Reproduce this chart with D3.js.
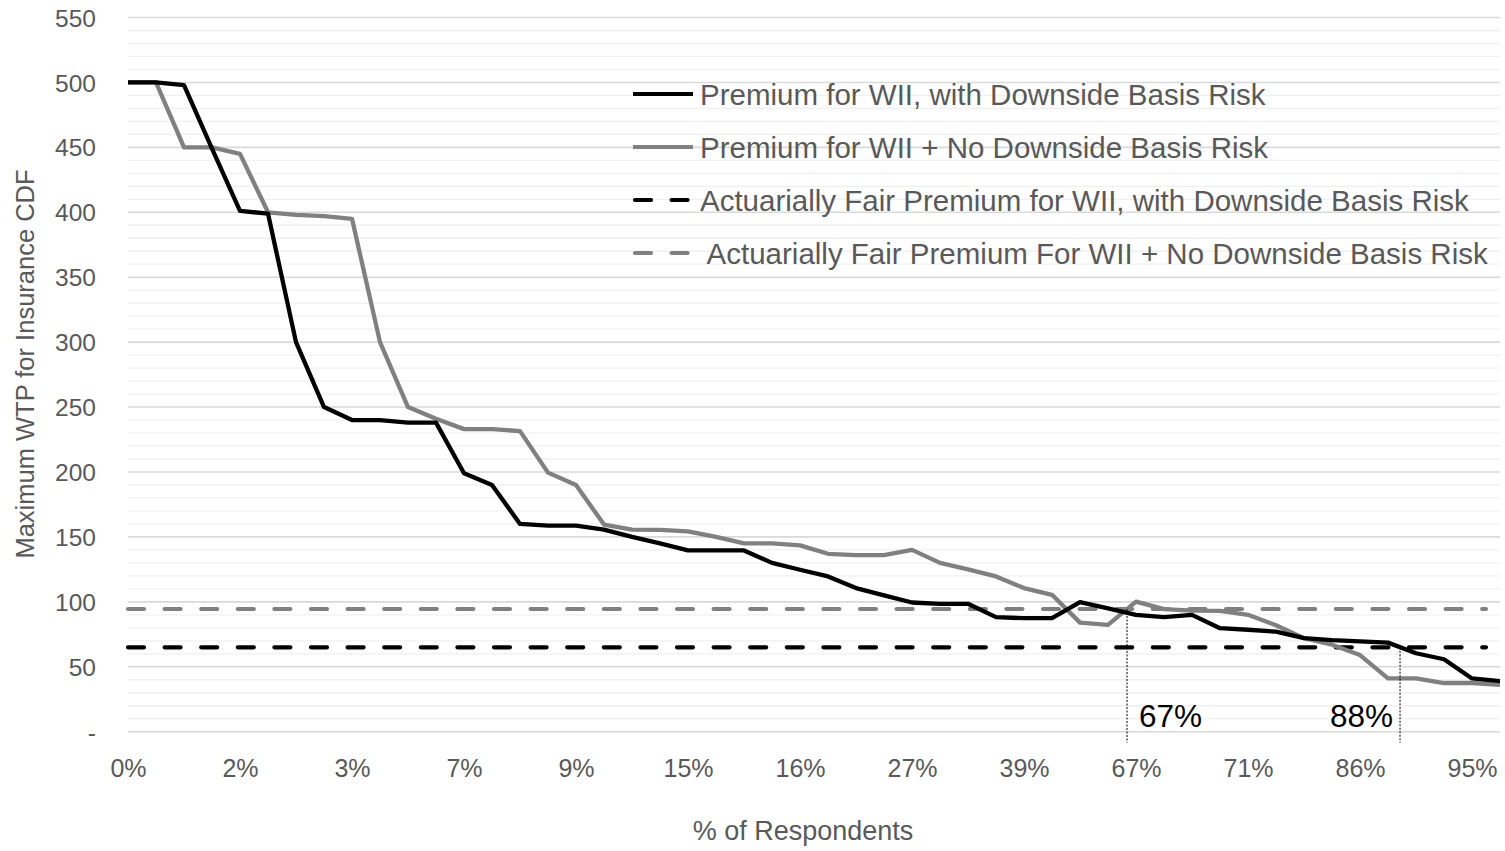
<!DOCTYPE html>
<html>
<head>
<meta charset="utf-8">
<script src="https://cdn.jsdelivr.net/npm/d3@7/dist/d3.min.js"></script>
<style>
  html, body { margin: 0; padding: 0; background: #fff; }
  svg { display: block; font-family: "Liberation Sans", Arial, sans-serif; }
</style>
</head>
<body>
<svg id="chart" width="1505" height="851"></svg>
<script>
// ---------- data ----------
const categories = ["0%","0%","1%","1%","2%","2%","2%","3%","3%","3%","5%","6%","7%","7%","8%","8%","9%","10%","12%","13%",
  "15%","15%","15%","16%","16%","17%","20%","23%","27%","29%","30%","36%","39%","40%","49%","55%","67%","68%","68%","70%",
  "71%","72%","79%","83%","86%","86%","88%","90%","95%","97%"];
const wiiDownside = [500,500,498,449,401,399,300,250,240,240,238,238,199,190,160,158.7,158.7,155.6,150,145,
  139.6,139.6,139.6,130,124.7,119.6,110.6,105,99.5,98.5,98.5,88.2,87.4,87.4,99.8,95,90,88.2,90,79.7,
  78.5,77,72,70.5,69.5,68.6,60.4,55.8,41,39];
const wiiNoDownside = [500,500,450,450,445,400,398,397,395,300,250,241,233,233,231.5,199.5,190,159.5,155.6,155.5,
  154.3,150,145,145,143.5,137,136,136,140,130,125,119.6,110.6,105.4,84,82.2,100.2,94.4,93.3,93,
  90,82,72,67,59,41,41,37.5,37.5,36];
const fairDownside = 65;
const fairNoDownside = 94.5;
const yTicks = [0,50,100,150,200,250,300,350,400,450,500,550];
const xTickEvery = 4;
const crossings = [
  {pos: 35.68, value: fairNoDownside, label: "67%", side: "right"},
  {pos: 45.43, value: fairDownside, label: "88%", side: "left"}
];
const legendLabels = [
  "Premium for WII, with Downside Basis Risk",
  "Premium for WII + No Downside Basis Risk",
  "Actuarially Fair Premium for WII, with Downside Basis Risk",
  " Actuarially Fair Premium For WII + No Downside Basis Risk"
];

// ---------- layout ----------
(function () {
const svg = d3.select("#chart");
const pLeft = 128, pRight = 1500, pTop = 17.5, pBottom = 731.7;
const BLACK = "#000000", GRAY = "#808080", TEXT = "#595959";

const x = d3.scaleLinear().domain([0, categories.length - 1]).range([pLeft, pRight]);
const y = d3.scaleLinear().domain([0, 550]).range([pBottom, pTop]);

svg.append("rect").attr("width", 1505).attr("height", 851).attr("fill", "#fff");

// minor gridlines
const minor = d3.range(0, 551, 10).filter(v => v % 50 !== 0);
svg.append("g").selectAll("line").data(minor).join("line")
  .attr("x1", pLeft).attr("x2", pRight)
  .attr("y1", d => y(d)).attr("y2", d => y(d))
  .attr("stroke", "#f0f0f0").attr("stroke-width", 1.3);
// major gridlines
svg.append("g").selectAll("line").data(yTicks).join("line")
  .attr("x1", pLeft).attr("x2", pRight)
  .attr("y1", d => y(d)).attr("y2", d => y(d))
  .attr("stroke", "#d9d9d9").attr("stroke-width", 1.6);

// y axis labels
const yAxis = d3.axisLeft(y).tickValues(yTicks).tickSize(0).tickPadding(0)
  .tickFormat(d => d === 0 ? "-" : d3.format("d")(d));
const gy = svg.append("g").attr("transform", `translate(${pLeft - 32},0)`).call(yAxis);
gy.select(".domain").remove();
gy.selectAll("text").attr("fill", TEXT).style("font-size", "24.5px").attr("dy", "0.35em");

// x axis labels
const xTicks = d3.range(0, categories.length, xTickEvery);
const xAxis = d3.axisBottom(x).tickValues(xTicks).tickSize(0).tickPadding(0)
  .tickFormat(i => categories[i]);
const gx = svg.append("g").attr("transform", `translate(0,${pBottom})`).call(xAxis);
gx.select(".domain").remove();
gx.selectAll("text").attr("fill", TEXT).style("font-size", "25px").attr("dy", "45px");

// axis titles
svg.append("text")
  .attr("transform", `translate(34,364) rotate(-90)`)
  .attr("text-anchor", "middle").attr("fill", TEXT).style("font-size", "25.5px")
  .text("Maximum WTP for Insurance CDF");
svg.append("text")
  .attr("x", 803).attr("y", 840).attr("text-anchor", "middle")
  .attr("fill", TEXT).style("font-size", "27px")
  .text("% of Respondents");

// dashed reference lines
const dash = "16,20.6";
[[fairNoDownside, GRAY], [fairDownside, BLACK]].forEach(([v, c]) => {
  svg.append("line")
    .attr("x1", pLeft).attr("x2", pRight - 14)
    .attr("y1", y(v)).attr("y2", y(v))
    .attr("stroke", c).attr("stroke-width", 4.2)
    .attr("stroke-dasharray", dash).attr("stroke-linecap", "round");
});

// series lines
const line = d3.line().x((d, i) => x(i)).y(d => y(d));
svg.append("path").datum(wiiNoDownside).attr("d", line)
  .attr("fill", "none").attr("stroke", GRAY).attr("stroke-width", 4.3)
  .attr("stroke-linejoin", "round");
svg.append("path").datum(wiiDownside).attr("d", line)
  .attr("fill", "none").attr("stroke", BLACK).attr("stroke-width", 4.3)
  .attr("stroke-linejoin", "round");

// crossing annotations
crossings.forEach(c => {
  svg.append("line")
    .attr("x1", x(c.pos)).attr("x2", x(c.pos))
    .attr("y1", y(c.value)).attr("y2", pBottom + 11)
    .attr("stroke", "#000").attr("stroke-width", 1)
    .attr("stroke-dasharray", "2,1.5");
  svg.append("text")
    .attr("x", c.side === "right" ? x(c.pos) + 12 : x(c.pos) - 7)
    .attr("y", 727)
    .attr("text-anchor", c.side === "right" ? "start" : "end")
    .attr("fill", "#000").style("font-size", "31.5px")
    .text(c.label);
});

// legend
const legendStyles = [
  {color: BLACK, dashed: false},
  {color: GRAY, dashed: false},
  {color: BLACK, dashed: true},
  {color: GRAY, dashed: true}
];
const lg = svg.append("g");
legendLabels.forEach((lab, i) => {
  const cy = 94 + i * 53;
  const st = legendStyles[i];
  const l = lg.append("line")
    .attr("x1", st.dashed ? 635 : 633).attr("x2", 693)
    .attr("y1", cy).attr("y2", cy)
    .attr("stroke", st.color).attr("stroke-width", 4.2);
  if (st.dashed) l.attr("stroke-dasharray", dash).attr("stroke-linecap", "round");
  lg.append("text")
    .attr("x", 700).attr("y", cy + 10.5)
    .attr("fill", TEXT).style("font-size", "29.5px")
    .style("white-space", "pre")
    .text(lab);
});
})();
</script>
</body>
</html>
